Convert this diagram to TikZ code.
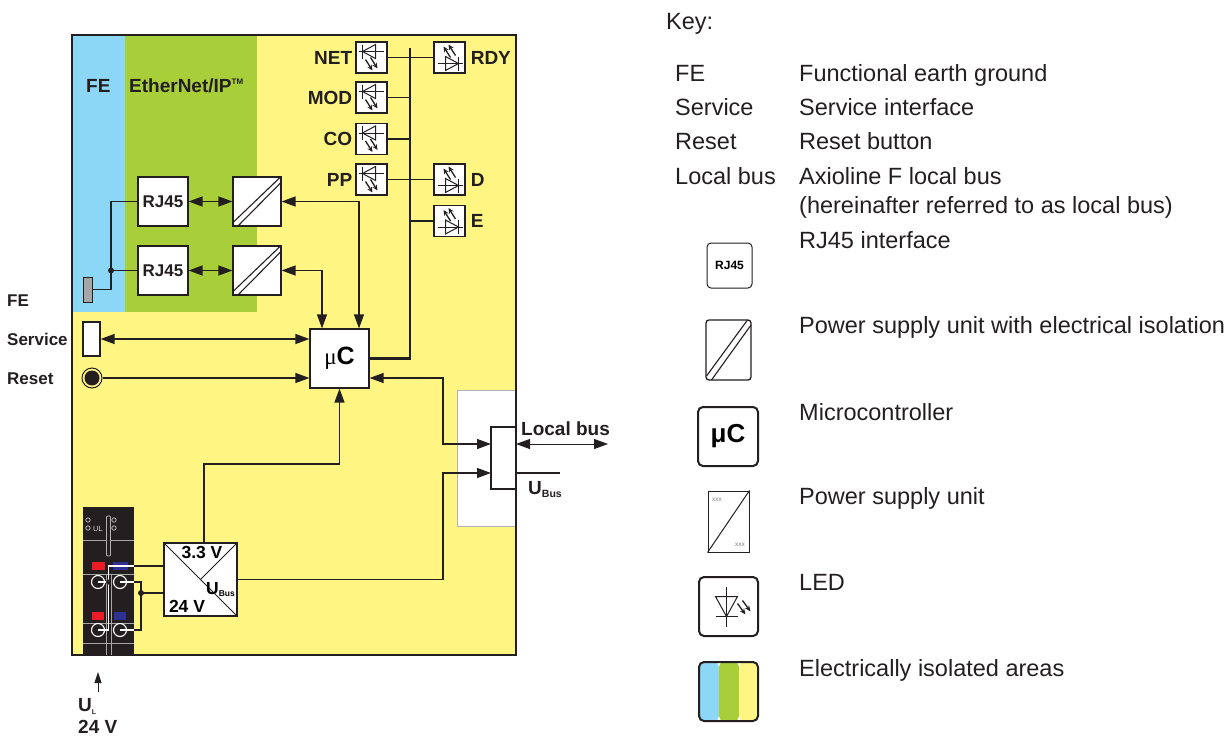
\documentclass[tikz,border=0pt]{standalone}
\usepackage{fontspec}
\setmainfont{Liberation Sans}
\newfontfamily\serifmu{Liberation Serif}
\usetikzlibrary{arrows.meta,calc}
\definecolor{feblue}{RGB}{140,215,245}
\definecolor{ethgreen}{RGB}{168,206,58}
\definecolor{ylw}{RGB}{255,245,130}
\definecolor{frm}{RGB}{35,31,32}
\definecolor{termred}{RGB}{237,28,36}
\definecolor{termblue}{RGB}{46,49,146}
\tikzset{
 ledsym/.pic={
  \draw[line width=1pt, frm] (-13,-6) -- (12,-6);
  \draw[line width=1pt, frm] (-9,-6) -- (4,-13) -- (4,1) -- cycle;
  \draw[line width=1pt, frm] (-9,-13) -- (-9,1);
  \draw[line width=1.3pt, frm, -{Stealth[length=5.5pt,width=5pt]}] (-6,2) -- (1,13);
  \draw[line width=1.3pt, frm, -{Stealth[length=5.5pt,width=5pt]}] (-1,0) -- (6,11);
 },
 isolines/.pic={
  \draw[line width=1.1pt, frm] (-24,21) -- (23,-24);
  \draw[line width=1.1pt, frm] (-19,24.5) -- (24,-19);
 },
}
\begin{document}
\begin{tikzpicture}[x=1pt,y=-1pt,
  >={Triangle[length=14pt,width=10pt]},
  ln/.style={draw=frm, line width=1.3pt},
  bus/.style={draw=frm, line width=2.8pt},
  wbox/.style={draw=frm, fill=white, line width=1.2pt, inner sep=0pt},
  ledbox/.style={wbox, minimum width=31pt, minimum height=31pt},
  lab/.style={font=\bfseries\fontsize{19}{19}\selectfont, inner sep=0pt, text=frm},
  slab/.style={font=\bfseries\fontsize{17}{17}\selectfont, inner sep=0pt, text=frm},
  keyt/.style={font=\fontsize{23.5}{24}\selectfont, anchor=base west, inner sep=0pt, text=frm},
  keybox/.style={draw=frm, fill=white, rounded corners=4pt, inner sep=0pt},
  dot/.style={circle, fill=frm, inner sep=0pt, minimum size=6pt},
  wire/.style={draw=white, line width=1.1pt},
  strip/.style={draw=gray!70, line width=1pt},
]
\useasboundingbox (0,0) rectangle (1229,736);

% areas
\fill[ylw] (72,35) rectangle (516,655);
\fill[feblue] (72,35) rectangle (125,312);
\fill[ethgreen] (125,35) rectangle (257,312);
\draw[draw=gray!60, fill=white, line width=0.8pt] (457,390) rectangle (516,526);
\fill[frm] (83,507) rectangle (134,655);
\draw[draw=frm, line width=1.5pt] (72,35) rectangle (516,655);

\node[lab, anchor=base west] (fetitle) at (86,92) {FE};
\node[lab, anchor=base west] (ethtitle) at (129,92) {EtherNet/IP\raisebox{8pt}{\fontsize{8}{8}\selectfont TM}};

% LEDs
\node[ledbox] (net) at (371.5,57.5) {}; \pic at (net) {ledsym};
\node[ledbox] (mod) at (371.5,97.5) {}; \pic at (mod) {ledsym};
\node[ledbox] (co) at (371.5,139) {}; \pic at (co) {ledsym};
\node[ledbox] (pp) at (371.5,179.5) {}; \pic at (pp) {ledsym};
\node[ledbox] (rdy) at (449.5,57.5) {}; \pic[rotate=180] at (rdy) {ledsym};
\node[ledbox] (dd) at (449.5,179.5) {}; \pic[rotate=180] at (dd) {ledsym};
\node[ledbox] (ee) at (449.5,221) {}; \pic[rotate=180] at (ee) {ledsym};
\node[lab, anchor=east] (netl) at ([xshift=-3pt]net.west) {NET};
\node[lab, anchor=east] (modl) at ([xshift=-3pt]mod.west) {MOD};
\node[lab, anchor=east] (col) at ([xshift=-3pt]co.west) {CO};
\node[lab, anchor=east] (ppl) at ([xshift=-3pt]pp.west) {PP};
\node[lab, anchor=west] (rdyl) at ([xshift=5pt]rdy.east) {RDY};
\node[lab, anchor=west] (ddl) at ([xshift=5pt]dd.east) {D};
\node[lab, anchor=west] (eel) at ([xshift=5pt]ee.east) {E};

% microcontroller
\node[wbox, minimum width=59pt, minimum height=59pt] (mc) at (339.5,358.5)
  {{\serifmu\fontsize{23}{23}\selectfont μ}{\bfseries\fontsize{25}{25}\selectfont C}};
\coordinate (bustop) at (410,48);
\draw[bus] (mc.east) -| (bustop);
\draw[ln] (net.east) -- (net.east -| bustop);
\draw[ln] (mod.east) -- (mod.east -| bustop);
\draw[ln] (co.east) -- (co.east -| bustop);
\draw[ln] (pp.east) -- (pp.east -| bustop);
\draw[ln] (rdy.west) -- (rdy.west -| bustop);
\draw[ln] (dd.west) -- (dd.west -| bustop);
\draw[ln] (ee.west) -- (ee.west -| bustop);

% RJ45 and isolation
\node[wbox, slab, minimum width=50pt, minimum height=49pt] (rj1) at (163,201.5) {RJ45};
\node[wbox, slab, minimum width=50pt, minimum height=49pt] (rj2) at (163,270.5) {RJ45};
\node[wbox, minimum width=48pt, minimum height=49pt] (iso1) at (257,201.5) {}; \pic at (iso1) {isolines};
\node[wbox, minimum width=48pt, minimum height=49pt] (iso2) at (257,270.5) {}; \pic at (iso2) {isolines};
\draw[ln,<->] (rj1) -- (iso1);
\draw[ln,<->] (rj2) -- (iso2);
\draw[ln,<->] (iso1.east) -| ([xshift=19.5pt]mc.north);
\draw[ln,<->] (iso2.east) -| ([xshift=-17.5pt]mc.north);

% FE pad
\node[draw=frm, fill=gray!70, line width=1pt, minimum width=9pt, minimum height=25pt, inner sep=0pt] (fepad) at (87.5,289.5) {};
\coordinate (fej) at (111,270.5);
\draw[ln] (rj1.west) -| (111,289.5) -- (fepad.east);
\draw[ln] (rj2.west) -- (fej);
\node[dot] (fedot) at (fej) {};

% service, reset
\node[wbox, minimum width=17pt, minimum height=34pt] (svc) at (91.5,339) {};
\draw[ln,<->] (svc.east) -- (svc.east -| mc.west);
\node[circle, draw=frm, line width=1pt, fill=ylw, minimum size=20pt, inner sep=0pt] (rst) at (92,378) {};
\fill[frm] (rst.center) circle (7.5);
\draw[ln,->] (rst.east) -- (rst.east -| mc.west);

\node[slab, anchor=base west] (lfe) at (7,306) {FE};
\node[slab, anchor=base west] (lsvc) at (7,345) {Service};
\node[slab, anchor=base west] (lrst) at (7,384) {Reset};

% power supply unit
\node[wbox, minimum width=73pt, minimum height=73pt] (psu) at (200.5,579.5) {};
\draw[line width=1pt, frm] (psu.north west) -- (psu.south east);
\draw[line width=1pt, frm] (psu.north east) -- (psu.center);
\node[font=\bfseries\fontsize{17.5}{17.5}\selectfont, inner sep=0pt, anchor=base] (v33) at (202,558) {3.3 V};
\node[font=\bfseries\fontsize{17.5}{17.5}\selectfont, inner sep=0pt, anchor=base] (v24) at (187,612) {24 V};
\node[font=\bfseries\fontsize{17.5}{17.5}\selectfont, inner sep=0pt, anchor=base west] (vbus) at (206,594) {U\raisebox{-2pt}{\fontsize{8.5}{8.5}\selectfont Bus}};

% local bus block
\coordinate (lbin1) at (491,444);
\coordinate (lbin2) at (491,473);
\draw[ln,->] ([xshift=3.5pt]psu.north) |- (339.5,464) -- (mc.south);
\draw[ln,->] (psu.east) -| (443,473) -- (lbin2);
\draw[ln,<->] ([yshift=-19.5pt]mc.east) -| (443,444) -- (lbin1);
\coordinate (lbtop) at (516,427);
\coordinate (lbbot) at (516,489);
\draw[bus] (lbtop) -- (491,427) -- (491,489) -- (lbbot);
\coordinate (lbo) at (516,444);
\coordinate (lbe) at (608,444);
\draw[draw=frm, line width=0.9pt, <->] (lbo) -- (lbe);
\node[lab, anchor=base west] (lbl) at (521,435) {Local bus};
\coordinate (ubo) at (516,473);
\coordinate (ube) at (560,473);
\draw[draw=frm, line width=1.6pt] (ubo) -- (ube);
\node[lab, anchor=base west] (ubl) at (528,494) {U\raisebox{-3pt}{\fontsize{10.5}{10.5}\selectfont Bus}};

% connector strip
\draw[gray!60, line width=0.8pt] (88,520) circle (2.2) (88,528) circle (2.2) (114,520) circle (2.2) (114,528) circle (2.2);
\node[font=\fontsize{7.5}{7.5}\selectfont, text=gray!30, inner sep=0pt] (ultxt) at (98,528.5) {UL};
\draw[gray!60, line width=0.8pt, rounded corners=1pt] (106.5,516) rectangle (110.5,556);
\draw[strip] (83,540) -- (106.5,540) (110.5,540) -- (134,540);
\draw[strip] (83,574) -- (134,574) (83,623) -- (134,623) (83,643) -- (134,643);
\draw[strip] (106,574) -- (106,655) (111,574) -- (111,655);
\fill[termred] (92,562) rectangle (105,570);
\fill[termblue] (113,562) rectangle (128,570);
\fill[termred] (92,612) rectangle (104,620);
\fill[termblue] (114,612) rectangle (126,620);
\foreach \cx/\cy in {98/582,120/582,98/630,120/630}{
  \draw[white, line width=1.1pt] (\cx,\cy) circle (6.5);
  \draw[white, line width=1.1pt] (\cx,\cy) -- (\cx+6.5,\cy);
}
\draw[ln] ([yshift=13.5pt]psu.west) -- (134,566);
\draw[wire] (134,566) -- (108.5,566) -- (108.5,630) -- (98,630);
\draw[wire] (108.5,582) -- (98,582);
\node[dot, minimum size=5pt] (wdot1) at (108.5,582) {};
\draw[ln] ([yshift=-13.5pt]psu.west) -- (141,593);
\draw[ln] (134,582) -- (141,582) -- (141,630) -- (134,630);
\draw[wire] (134,582) -- (120,582);
\draw[wire] (134,630) -- (120,630);
\node[dot] (wdot2) at (141,593) {};

% U_L supply
\coordinate (ulb) at (98,692);
\coordinate (ult) at (98,672);
\draw[draw=frm, line width=1pt, -{Triangle[length=11pt,width=7pt]}] (ulb) -- (ult);
\node[lab, anchor=base west] (ul) at (78,711) {U\raisebox{-3pt}{\fontsize{7}{7}\selectfont L}};
\node[lab, anchor=base west] (ulv) at (78,733) {24 V};

% key
\node[keyt] (key) at (666,29) {Key:};
\node[keyt] (k1a) at (675,81) {FE};
\node[keyt] (k1b) at (799,81) {Functional earth ground};
\node[keyt] (k2a) at (675,115) {Service};
\node[keyt] (k2b) at (799,115) {Service interface};
\node[keyt] (k3a) at (675,149.5) {Reset};
\node[keyt] (k3b) at (799,149.5) {Reset button};
\node[keyt] (k4a) at (675,184) {Local bus};
\node[keyt] (k4b) at (799,184) {Axioline F local bus};
\node[keyt] (k4c) at (799,213) {(hereinafter referred to as local bus)};
\node[keyt] (k5) at (799,248) {RJ45 interface};
\node[keyt] (k6) at (799,333) {Power supply unit with electrical isolation};
\node[keyt] (k7) at (799,420) {Microcontroller};
\node[keyt] (k8) at (799,504) {Power supply unit};
\node[keyt] (k9) at (799,590) {LED};
\node[keyt] (k10) at (799,676) {Electrically isolated areas};

\node[keybox, line width=1pt, minimum width=45pt, minimum height=45pt, font=\bfseries\fontsize{12}{12}\selectfont] (krj) at (729.5,265.5) {RJ45};
\node[keybox, line width=1.3pt, rounded corners=3pt, minimum width=45pt, minimum height=60pt] (kiso) at (728.5,350) {};
\begin{scope}[shift={(kiso.center)}]
  \draw[line width=1.1pt, frm] (-22,26) -- (19,-30);
  \draw[line width=1.1pt, frm] (-17,30) -- (22.5,-25);
\end{scope}
\node[keybox, line width=2pt, rounded corners=5pt, minimum width=60pt, minimum height=59pt, font=\bfseries\fontsize{26}{26}\selectfont] (kmc) at (728,436.5) {μC};
\node[draw=frm, fill=white, line width=1pt, inner sep=0pt, minimum width=41pt, minimum height=61pt] (kpsu) at (728.5,521.5) {};
\draw[line width=1pt, frm] (kpsu.south west) -- (kpsu.north east);
\node[font=\fontsize{6.5}{6.5}\selectfont, text=gray, inner sep=0pt] (kx1) at (717,500) {xxx};
\node[font=\fontsize{6.5}{6.5}\selectfont, text=gray, inner sep=0pt] (kx2) at (740,545) {xxx};
\node[keybox, line width=2pt, rounded corners=5pt, minimum width=59pt, minimum height=59pt] (kled) at (728.5,606.5) {};
\begin{scope}[shift={(kled.center)}]
  \draw[line width=1pt, frm] (-2,-20) -- (-2,20);
  \draw[line width=1pt, frm] (-13,-10) -- (9,-10) -- (-2,10) -- cycle;
  \draw[line width=1pt, frm] (-13,10) -- (9,10);
  \draw[line width=1.3pt, frm, -{Stealth[length=6pt,width=5pt]}] (9,-3) -- (17,8);
  \draw[line width=1.3pt, frm, -{Stealth[length=6pt,width=5pt]}] (14,-6) -- (22,5);
\end{scope}
\node[draw=frm, line width=2pt, rounded corners=5pt, minimum width=59pt, minimum height=59pt, inner sep=0pt,
  path picture={
    \fill[feblue] (path picture bounding box.south west) rectangle ([xshift=20pt]path picture bounding box.north west);
    \fill[ethgreen] ([xshift=20pt]path picture bounding box.south west) rectangle ([xshift=40pt]path picture bounding box.north west);
    \fill[ylw] ([xshift=40pt]path picture bounding box.south west) rectangle (path picture bounding box.north east);
  }] (kcol) at (728.5,691.5) {};
\end{tikzpicture}
\end{document}
